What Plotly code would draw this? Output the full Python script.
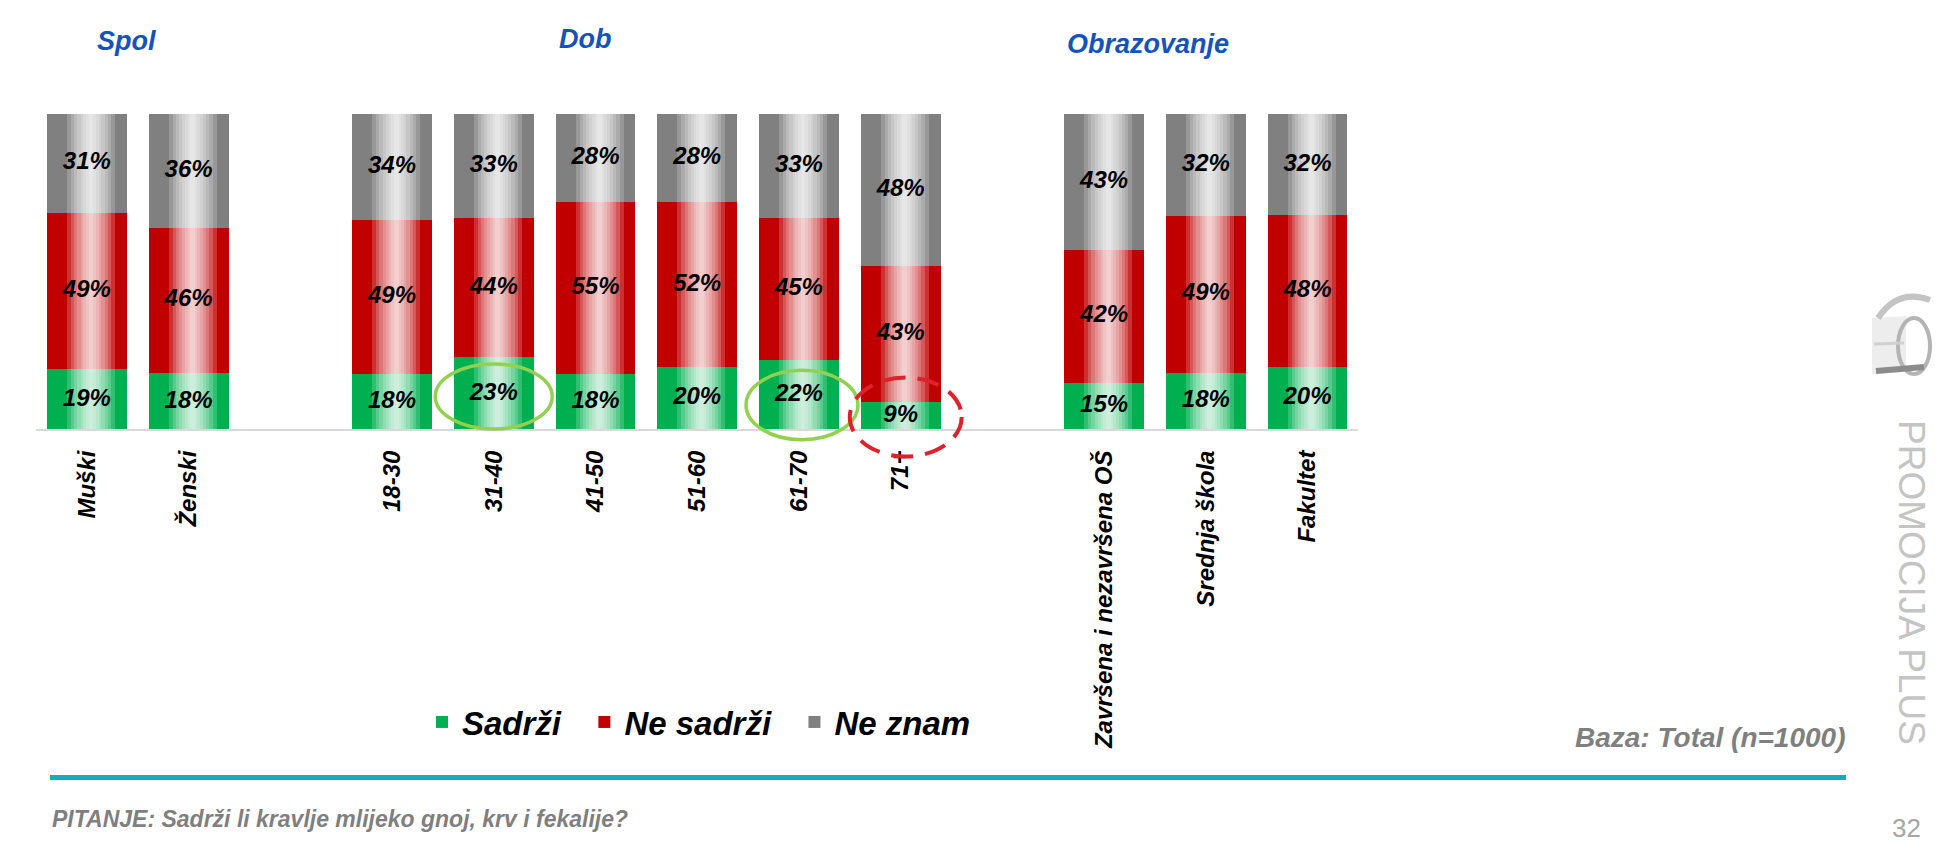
import plotly.graph_objects as go

# ---------------- data ----------------
categories = ["Muški", "Ženski",
              "18-30", "31-40", "41-50", "51-60", "61-70", "71+",
              "Završena i nezavršena OŠ", "Srednja škola", "Fakultet"]
group_of = [0, 0, 1, 1, 1, 1, 1, 1, 2, 2, 2]
group_titles = ["Spol", "Dob", "Obrazovanje"]
series_names = ["Sadrži", "Ne sadrži", "Ne znam"]
sadrzi = [19, 18, 18, 23, 18, 20, 22, 9, 15, 18, 20]
ne_sadrzi = [49, 46, 49, 44, 55, 52, 45, 43, 42, 49, 48]
ne_znam = [31, 36, 34, 33, 28, 28, 33, 48, 43, 32, 32]
highlighted = ["31-40", "61-70", "71+"]
base_text = "Baza: Total (n=1000)"
question_text = "PITANJE: Sadrži li kravlje mlijeko gnoj, krv i fekalije?"
page_number = "32"
brand_text = "PROMOCIJA PLUS"

# ---------------- styling ----------------
W, H = 1959, 853
FONT = "Liberation Sans, Arial, sans-serif"
colors = ["#00B050", "#C00000", "#808080"]
BAR_W = 0.785


def px(x):
    return x / W


def py(y):
    return 1 - y / H


slots = [i + g for i, g in enumerate(group_of)]
series = [sadrzi, ne_sadrzi, ne_znam]
totals = [a + b + c for a, b, c in zip(sadrzi, ne_sadrzi, ne_znam)]
norm = [[v / t * 100 for v, t in zip(s, totals)] for s in series]

fig = go.Figure()

# stacked segments (manual bases, overlay mode)
bases = [[0.0] * len(categories)]
for k in range(1, 3):
    bases.append([b + v for b, v in zip(bases[k - 1], norm[k - 1])])

for k in range(3):
    legend_name = series_names[k] + ("\u00a0\u00a0" if k < 2 else "")
    fig.add_trace(go.Bar(
        x=slots, y=norm[k], base=bases[k], width=BAR_W,
        name=legend_name, marker=dict(color=colors[k], line=dict(width=0)),
        hoverinfo="skip", showlegend=True,
    ))

# glossy vertical highlight (layers of translucent white)
sheen_fracs = [0.6, 0.5, 0.42, 0.34, 0.26, 0.19, 0.12, 0.06]
shift = 0.04
full = [b + v for b, v in zip(bases[2], norm[2])]
for f in sheen_fracs:
    w = BAR_W * f
    fig.add_trace(go.Bar(
        x=slots, y=full, base=[0] * len(slots), width=w, offset=-w / 2 + shift,
        marker=dict(color="rgba(255,255,255,0.19)", line=dict(width=0)),
        hoverinfo="skip", showlegend=False,
    ))

# data labels in the middle of each segment
lab_x, lab_y, lab_t = [], [], []
for k in range(3):
    for i in range(len(categories)):
        lab_x.append(slots[i])
        lab_y.append(bases[k][i] + norm[k][i] / 2)
        lab_t.append(f"{series[k][i]}%")
fig.add_trace(go.Scatter(
    x=lab_x, y=lab_y, text=lab_t, mode="text", showlegend=False,
    hoverinfo="skip", cliponaxis=False,
    textfont=dict(family=FONT, size=24, color="black", weight="bold", style="italic"),
))

shapes = []
# highlight ellipses
hl_style = {
    "31-40": dict(color="#92D050", dash="solid", dx=0.0, dy=-0.9, rx=0.575, ry=10.3),
    "61-70": dict(color="#92D050", dash="solid", dx=0.03, dy=-3.1, rx=0.55, ry=11.0),
    "71+": dict(color="#E0202A", dash="22px,12px", dx=0.05, dy=-0.4, rx=0.55, ry=12.5),
}
for cat in highlighted:
    i = categories.index(cat)
    st = hl_style[cat]
    cx = slots[i] + st["dx"]
    cy = norm[0][i] / 2 + st["dy"]
    shapes.append(dict(
        type="circle", xref="x", yref="y",
        x0=cx - st["rx"], x1=cx + st["rx"], y0=cy - st["ry"], y1=cy + st["ry"],
        line=dict(color=st["color"], width=3.5 if st["dash"] == "solid" else 4, dash=st["dash"]),
        layer="above",
    ))

# teal separator line
shapes.append(dict(type="line", xref="paper", yref="paper",
                   x0=px(50), x1=px(1846), y0=py(777.5), y1=py(777.5),
                   line=dict(color="#17A9BF", width=5)))

# simplified logo
shapes.append(dict(type="path", xref="paper", yref="paper",
                   path=f"M{px(1872)},{py(318)} L{px(1906)},{py(316)} L{px(1906)},{py(372)} L{px(1872)},{py(374)} Z",
                   fillcolor="#EDEDED", line=dict(width=0)))
shapes.append(dict(type="path", xref="paper", yref="paper",
                   path=f"M{px(1878)},{py(318)} Q{px(1898)},{py(288)} {px(1930)},{py(300)}",
                   line=dict(color="#C4C4C4", width=6)))
shapes.append(dict(type="circle", xref="paper", yref="paper",
                   x0=px(1898), x1=px(1930), y0=py(374), y1=py(318),
                   line=dict(color="#B4B4B4", width=4)))
shapes.append(dict(type="line", xref="paper", yref="paper",
                   x0=px(1876), x1=px(1924), y0=py(371), y1=py(367),
                   line=dict(color="#8C8C8C", width=6)))
shapes.append(dict(type="line", xref="paper", yref="paper",
                   x0=px(1874), x1=px(1904), y0=py(344), y1=py(343),
                   line=dict(color="#D0D0D0", width=3)))

annotations = []
title_pos = [(126, 41), (585, 39), (1148, 44)]
for t, (tx, ty) in zip(group_titles, title_pos):
    annotations.append(dict(
        text=t, x=px(tx), y=py(ty), xref="paper", yref="paper",
        xanchor="center", yanchor="middle", showarrow=False,
        font=dict(family=FONT, size=27, color="#1552BC", weight="bold", style="italic"),
    ))
annotations.append(dict(
    text=base_text, x=px(1847), y=py(737), xref="paper", yref="paper",
    xanchor="right", yanchor="middle", showarrow=False,
    font=dict(family=FONT, size=28, color="#7F7F7F", weight="bold", style="italic"),
))
annotations.append(dict(
    text=question_text, x=px(50), y=py(819), xref="paper", yref="paper",
    xanchor="left", yanchor="middle", showarrow=False,
    font=dict(family=FONT, size=23, color="#7F7F7F", weight="bold", style="italic"),
))
annotations.append(dict(
    text=page_number, x=px(1906), y=py(828), xref="paper", yref="paper",
    xanchor="center", yanchor="middle", showarrow=False,
    font=dict(family=FONT, size=26, color="#A6A6A6"),
))
annotations.append(dict(
    text=brand_text, x=px(1912), y=py(582), xref="paper", yref="paper",
    xanchor="center", yanchor="middle", showarrow=False, textangle=90,
    font=dict(family=FONT, size=37, color="#C4C4C4"),
))

fig.update_layout(
    width=W, height=H, autosize=False,
    margin=dict(l=0, r=0, t=0, b=0),
    paper_bgcolor="white", plot_bgcolor="white",
    barmode="overlay", bargap=0,
    showlegend=True,
    legend=dict(
        orientation="h", x=px(422), y=py(722), xanchor="left", yanchor="middle",
        font=dict(family=FONT, size=33, color="black", weight="bold", style="italic"),
        bgcolor="rgba(0,0,0,0)", traceorder="normal",
    ),
    xaxis=dict(
        domain=[px(36), px(1358.4)], range=[-0.5, 12.5],
        anchor="free", position=py(430),
        tickmode="array", tickvals=slots, ticktext=categories, tickangle=-90,
        ticks="outside", ticklen=10, tickcolor="rgba(0,0,0,0)",
        tickfont=dict(family=FONT, size=24, color="black", weight="bold", style="italic"),
        showline=True, linecolor="#D9D9D9", linewidth=2,
        showgrid=False, zeroline=False, fixedrange=True,
    ),
    yaxis=dict(
        domain=[py(467.9), py(114)], range=[-12, 100],
        showticklabels=False, showgrid=False, zeroline=False, showline=False,
        ticks="", fixedrange=True,
    ),
    shapes=shapes,
    annotations=annotations,
)

fig.write_html(
    "out.html",
    config={"displayModeBar": False},
    post_script="document.body.style.margin='0px';document.body.style.overflow='hidden';",
)
